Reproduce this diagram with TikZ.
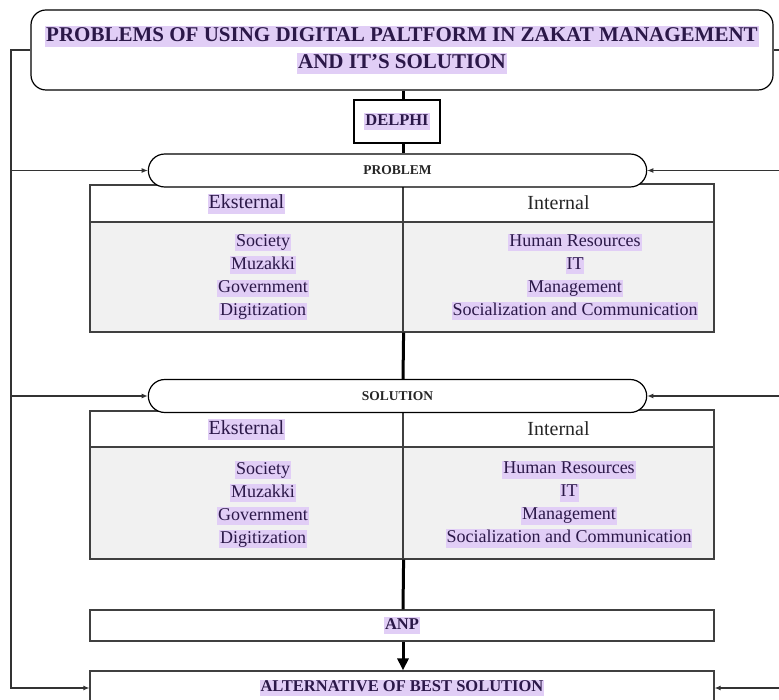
\documentclass[tikz,border=0pt]{standalone}
\usepackage{fontspec}
\setmainfont{Liberation Serif}
\usetikzlibrary{shapes.misc, arrows.meta, positioning}
\definecolor{hlpurple}{RGB}{225,206,246}
\definecolor{ink}{RGB}{43,24,72}
\definecolor{cellgray}{RGB}{241,241,241}
\definecolor{edge}{RGB}{64,64,64}
\newcommand{\hilite}[1]{{\setlength{\fboxsep}{1pt}\colorbox{hlpurple}{\vphantom{Hg}#1}}}
\tikzset{
    banner/.style={
        rectangle, rounded corners=15pt, draw=black, line width=1.2pt,
        minimum width=742pt, minimum height=80pt,
        fill=white, text=ink, align=center,
        font=\fontsize{21}{27}\selectfont\bfseries
    },
    method/.style={
        rectangle, draw=black, line width=1.2pt,
        fill=white, text=ink,
        font=\fontsize{16.5}{20}\selectfont\bfseries
    },
    phase/.style={
        rounded rectangle, draw=black, line width=1.2pt,
        minimum width=505pt, minimum height=33pt,
        fill=white, text=black!85,
        font=\fontsize{13.5}{16}\selectfont\bfseries
    },
    headcell/.style={
        rectangle, draw=edge, line width=1.2pt, inner sep=0pt,
        minimum height=38pt, fill=white,
        font=\fontsize{20}{24}\selectfont
    },
    bodycell/.style={
        rectangle, draw=edge, line width=1.2pt, inner sep=0pt,
        fill=cellgray
    },
    listtext/.style={align=center, inner sep=0pt, text=ink, font=\fontsize{18}{23}\selectfont},
    spine/.style={draw=black, line width=3pt},
    sideline/.style={draw=black!80, line width=1.1pt},
    sidearrow/.style={sideline, -{Latex[length=6pt,width=5pt]}}
}

\begin{document}
\begin{tikzpicture}[x=1pt, y=-1pt]
\useasboundingbox (0,0) rectangle (779,700);

\coordinate (spine) at (403,0);
\coordinate (ltrunk) at (11,0);
\coordinate (rtrunk) at (784,0);

% title and method
\node[banner] (title) at (402,50) {\hilite{PROBLEMS OF USING DIGITAL PALTFORM IN ZAKAT MANAGEMENT}\\\hilite{AND IT'S SOLUTION}};
\node[method, minimum width=86pt, minimum height=43pt] (delphi) at (397,121.5) {\hilite{DELPHI}};

% problem table
\node[headcell, minimum width=313pt, text=ink] (eh1) at (246.5,204) {\hilite{Eksternal}};
\node[headcell, minimum width=311pt, text=black!85] (ih1) at (558.5,203) {Internal};
\node[bodycell, minimum width=313pt, minimum height=110pt] (eb1) at (246.5,277) {};
\node[bodycell, minimum width=311pt, minimum height=110pt] (ib1) at (558.5,277) {};
\node[listtext] (el1) at (263,277) {\hilite{Society}\\\hilite{Muzakki}\\\hilite{Government}\\\hilite{Digitization}};
\node[listtext] (il1) at (575,277) {\hilite{Human Resources}\\\hilite{IT}\\\hilite{Management}\\\hilite{Socialization and Communication}};
\node[phase] (problem) at (397.5,170.5) {PROBLEM};

% solution table
\node[headcell, minimum width=313pt, minimum height=37pt, text=ink] (eh2) at (246.5,429.5) {\hilite{Eksternal}};
\node[headcell, minimum width=311pt, minimum height=37pt, text=black!85] (ih2) at (558.5,428.5) {Internal};
\node[bodycell, minimum width=313pt, minimum height=112pt] (eb2) at (246.5,503) {};
\node[bodycell, minimum width=311pt, minimum height=112pt] (ib2) at (558.5,503) {};
\node[listtext] (el2) at (263,504.5) {\hilite{Society}\\\hilite{Muzakki}\\\hilite{Government}\\\hilite{Digitization}};
\node[listtext] (il2) at (569,504.5) {\hilite{Human Resources}\\\hilite{IT}\\\hilite{Management}\\\hilite{Socialization and Communication}};
\node[phase] (solution) at (397.5,396) {SOLUTION};

% ANP and result
\node[method, draw=edge, minimum width=624pt, minimum height=31pt] (anp) at (402,625.5) {\hilite{ANP}};
\node[method, draw=edge, minimum width=624pt, minimum height=34pt] (alt) at (402,688) {\hilite{ALTERNATIVE OF BEST SOLUTION}};

% main flow
\draw[spine] (title.south -| spine) -- (delphi.north -| spine);
\draw[spine] (delphi.south -| spine) -- (problem.north -| spine);
\draw[spine] (eb1.south east) -- (solution.north -| spine);
\draw[spine] (eb2.south east) -- (anp.north -| spine);
\draw[spine, -{Triangle[length=12pt,width=11pt]}] (anp.south -| spine) -- (alt.north -| spine);

% feedback lines on both sides
\draw[sidearrow] (title.west) -| (ltrunk |- alt.west) -- (alt.west);
\draw[sidearrow] (ltrunk |- problem.west) -- (problem.west);
\draw[sidearrow] (ltrunk |- solution.west) -- (solution.west);
\draw[sidearrow] (title.east) -| (rtrunk |- alt.east) -- (alt.east);
\draw[sidearrow] (rtrunk |- problem.east) -- (problem.east);
\draw[sidearrow] (rtrunk |- solution.east) -- (solution.east);

\end{tikzpicture}
\end{document}
